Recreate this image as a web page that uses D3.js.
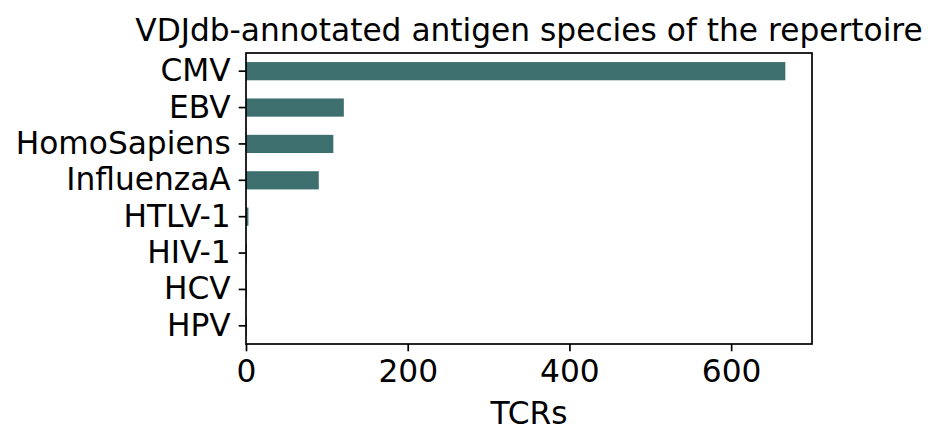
<!DOCTYPE html>
<html>
<head>
<meta charset="utf-8">
<script src="https://cdn.jsdelivr.net/npm/d3@7"></script>
<style>
  body { margin: 0; background: #fff; }
  text { font-family: "DejaVu Sans", sans-serif; fill: #000; }
</style>
</head>
<body>
<svg width="937" height="446"></svg>
<script>
const svg = d3.select("svg");

// data
const species = ["CMV", "EBV", "HomoSapiens", "InfluenzaA", "HTLV-1", "HIV-1", "HCV", "HPV"];
const counts = [667, 121, 108, 90, 3, 1, 1, 1];
const xTicks = [0, 200, 400, 600];

const title = "VDJdb-annotated antigen species of the repertoire";
const xLabel = "TCRs";

// layout
const margin = { top: 53, left: 246, right: 125, bottom: 102 };
const width = +svg.attr("width");
const height = +svg.attr("height");
const fontSize = 31.25;
const barColor = "#3d6f6f";

const xScale = d3.scaleLinear()
  .domain([0, 700])
  .range([margin.left, width - margin.right]);

const yScale = d3.scaleBand()
  .domain(species)
  .range([margin.top, height - margin.bottom])
  .paddingInner(0.5)
  .paddingOuter(0.25);

const rows = species.map((s, i) => ({ name: s, value: counts[i] }));

// bars
svg.append("g")
  .selectAll("rect")
  .data(rows)
  .enter()
  .append("rect")
  .attr("x", xScale(0))
  .attr("y", d => yScale(d.name))
  .attr("width", d => xScale(d.value) - xScale(0))
  .attr("height", yScale.bandwidth())
  .attr("fill", barColor);

// axes
const xAxis = d3.axisBottom(xScale)
  .tickValues(xTicks)
  .tickSize(7.3)
  .tickPadding(9)
  .tickSizeOuter(0);

const yAxis = d3.axisLeft(yScale)
  .tickSize(7.3)
  .tickPadding(8)
  .tickSizeOuter(0);

const gx = svg.append("g")
  .attr("transform", `translate(0, ${height - margin.bottom})`)
  .call(xAxis);

const gy = svg.append("g")
  .attr("transform", `translate(${margin.left}, 0)`)
  .call(yAxis);

[gx, gy].forEach(g => {
  g.select(".domain").remove();
  g.selectAll(".tick line").attr("stroke", "#000").attr("stroke-width", 1.7);
  g.selectAll(".tick text")
    .attr("font-family", "DejaVu Sans, sans-serif")
    .attr("font-size", fontSize)
    .attr("fill", "#000");
});

// spines
svg.append("rect")
  .attr("x", margin.left)
  .attr("y", margin.top)
  .attr("width", width - margin.left - margin.right)
  .attr("height", height - margin.top - margin.bottom)
  .attr("fill", "none")
  .attr("stroke", "#000")
  .attr("stroke-width", 1.7);

// title and label
const cx = (xScale.range()[0] + xScale.range()[1]) / 2;

svg.append("text")
  .attr("x", cx)
  .attr("y", 40.5)
  .attr("text-anchor", "middle")
  .attr("font-size", fontSize)
  .text(title);

svg.append("text")
  .attr("x", cx)
  .attr("y", 424)
  .attr("text-anchor", "middle")
  .attr("font-size", fontSize)
  .text(xLabel);
</script>
</body>
</html>
